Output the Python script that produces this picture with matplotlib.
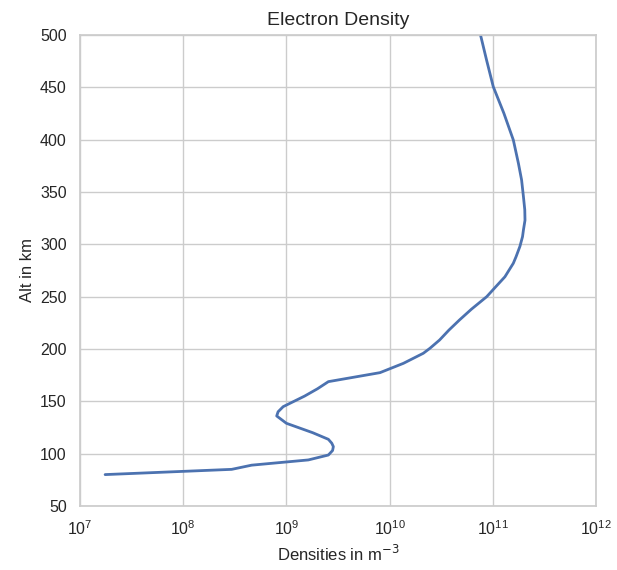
import matplotlib
matplotlib.use("Agg")
import matplotlib.pyplot as plt
import seaborn as sns

altitude_km = [80, 85, 89, 94, 98.7, 103, 106.7, 110, 113.7, 120, 129, 136, 140, 144.9,
               155, 162, 168.8, 177.4, 186.3, 195.9, 200.7, 208.6, 218, 227.7, 238, 250,
               260, 269, 276, 281.9, 288.2, 298, 307.3, 313.7, 323, 333, 345.5, 361.5,
               377.4, 399.7, 425.2, 450.6, 476, 500]
density_m3 = [1.75e7, 2.95e8, 4.6e8, 1.63e9, 2.55e9, 2.8e9, 2.85e9, 2.75e9, 2.55e9, 1.8e9,
              1.0e9, 8.05e8, 8.3e8, 9.3e8, 1.5e9, 2.0e9, 2.55e9, 8.07e9, 1.36e10, 2.12e10,
              2.46e10, 3.05e10, 3.75e10, 4.75e10, 6.2e10, 8.73e10,
              1.08e11, 1.31e11, 1.45e11, 1.58e11, 1.68e11, 1.83e11, 1.94e11, 1.98e11,
              2.05e11, 2.04e11, 1.98e11, 1.9e11,
              1.77e11, 1.58e11, 1.28e11, 1.01e11, 8.7e10, 7.6e10]

sns.set_theme(style="whitegrid")
plt.rcParams['font.family'] = ['Liberation Sans', 'DejaVu Sans']

fig = plt.figure(figsize=(6.17, 5.70), dpi=100)
ax = fig.add_axes([0.1297, 0.1123, 0.8363, 0.8263])
ax.plot(density_m3, altitude_km, color="#4c72b0", lw=2)
ax.set_xscale("log")
ax.set_xlim(1e7, 1e12)
ax.set_ylim(50, 500)
ax.set_yticks(range(50, 501, 50))
ax.set_xlabel("Densities in m$^{-3}$", fontsize=12)
ax.set_ylabel("Alt in km", fontsize=12)
ax.set_title("Electron Density", fontsize=14, pad=7)
ax.tick_params(labelsize=11.5)
fig.savefig("out.png", dpi=100)
